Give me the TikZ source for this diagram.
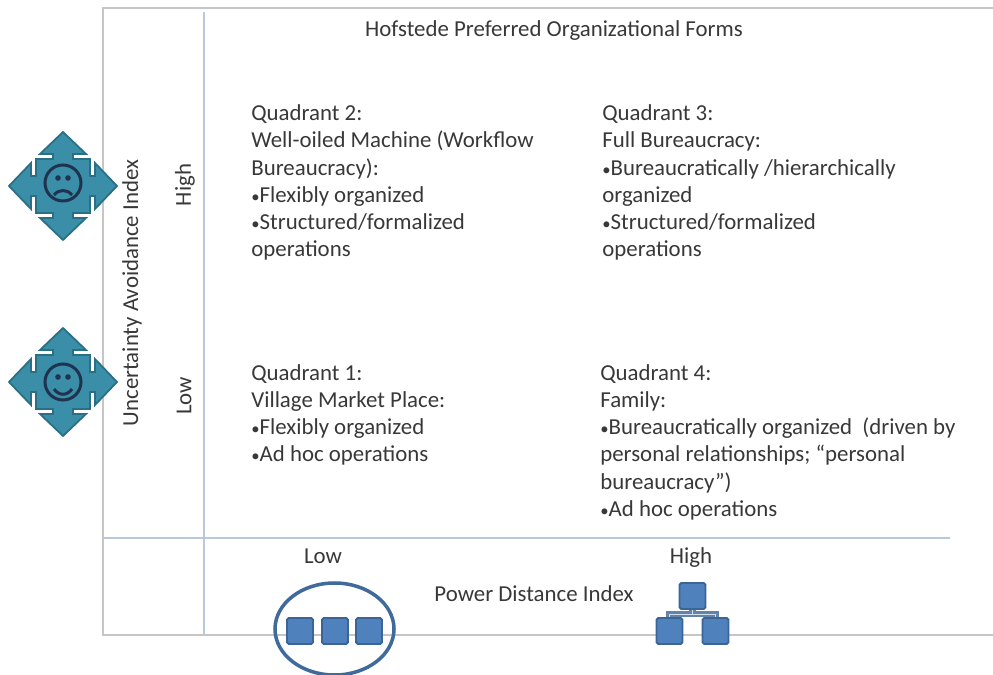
\documentclass[tikz,border=0pt]{standalone}
\usepackage{fontspec}
\setmainfont{Carlito}
\usepackage{xcolor}
\usetikzlibrary{calc}
\definecolor{framegray}{HTML}{C6C6C6}
\definecolor{axisblue}{HTML}{B9C8DB}
\definecolor{textgray}{HTML}{383838}
\definecolor{tealfill}{HTML}{3A8EA8}
\definecolor{tealedge}{HTML}{2A6F85}
\definecolor{facedark}{HTML}{1F3350}
\definecolor{boxfill}{HTML}{4F81BD}
\definecolor{boxedge}{HTML}{3A6596}
\definecolor{ringblue}{HTML}{3F6A9B}
\newcommand{\qbullet}{{\fontsize{9.5}{10}\selectfont•}}

\tikzset{
  label/.style={font=\fontsize{13}{15.5}\selectfont, text=textgray, inner sep=0pt},
  quadtext/.style={label, align=left, anchor=north west},
  unitbox/.style={draw=boxedge, fill=boxfill, line width=1.1pt, rounded corners=1pt,
    minimum size=0.52cm, inner sep=0pt},
  treeline/.style={draw=boxedge!80, line width=1.5pt, double=boxfill!25, double distance=0.5pt},
  pics/moodicon/.style n args={3}{code={
    \draw[fill=tealfill, draw=tealedge, line width=1pt]
      (0,-54) -- (23,-32) -- (10,-32) -- (10,-27) -- (27,-27) -- (27,-10) -- (32,-10) -- (32,-23)
      -- (54,0) -- (32,23) -- (32,10) -- (27,10) -- (27,27) -- (10,27) -- (10,32) -- (23,32)
      -- (0,54) -- (-23,32) -- (-10,32) -- (-10,27) -- (-27,27) -- (-27,10) -- (-32,10) -- (-32,23)
      -- (-54,0) -- (-32,-23) -- (-32,-10) -- (-27,-10) -- (-27,-27) -- (-10,-27) -- (-10,-32) -- (-23,-32)
      -- cycle;
    \draw[facedark, line width=1.7pt] (0,#3) circle (18);
    \fill[facedark] (-5,#3-5) circle (2.8) (5,#3-5) circle (2.8);
    \draw[facedark, line width=1.7pt] (-9,#1) .. controls (-4,#2) and (4,#2) .. (9,#1);
  }}
}

\begin{document}
\begin{tikzpicture}[x=0.02cm, y=-0.02cm]
\useasboundingbox (0,0) rectangle (993,675);

% frame and axes
\coordinate (frametr) at (993,8);
\coordinate (frametl) at (103,8);
\coordinate (framebl) at (103,635);
\coordinate (framebr) at (993,635);
\draw[framegray, line width=0.7pt] (frametr) -- (frametl) -- (framebl) -- (framebr);

\coordinate (vtop) at (204,12);
\coordinate (vbot) at (204,635);
\coordinate (hleft) at (104,538);
\coordinate (hright) at (950,538);
\draw[axisblue, line width=0.7pt] (vtop) -- (vbot);
\draw[axisblue, line width=0.7pt] (hleft) -- (hright);

% title and axis labels
\draw(554,31) node (title) [label]{Hofstede Preferred Organizational Forms};
\draw(132,293) node (uaindex) [label, rotate=90]{Uncertainty Avoidance Index};
\draw(185,185) node (uahigh) [label, rotate=90]{High};
\draw(184,396) node (ualow) [label, rotate=90]{Low};
\draw(323,556) node (pdlow) [label]{Low};
\draw(691,558) node (pdhigh) [label]{High};
\draw(534,594) node (pdindex) [label]{Power Distance Index};

% quadrants
\draw(251,104.5) node (quadtwo) [quadtext]{Quadrant 2:\\Well-oiled Machine (Workflow\\Bureaucracy):\\\qbullet Flexibly organized\\\qbullet Structured/formalized\\operations};
\draw(602,104.5) node (quadthree) [quadtext]{Quadrant 3:\\Full Bureaucracy:\\\qbullet Bureaucratically /hierarchically\\organized\\\qbullet Structured/formalized\\operations};
\draw(251,364) node (quadone) [quadtext]{Quadrant 1:\\Village Market Place:\\\qbullet Flexibly organized\\\qbullet Ad hoc operations};
\draw(600,364) node (quadfour) [quadtext]{Quadrant 4:\\Family:\\\qbullet Bureaucratically organized\ \ (driven by\\personal relationships; “personal\\bureaucracy”)\\\qbullet Ad hoc operations};

% mood icons
\pic at (63,186) {moodicon={9}{3}{-3}};
\pic at (63,382) {moodicon={7}{14}{0}};

% flat organization
\draw[ringblue, line width=2pt] (334.5,629) ellipse (59.5 and 46);
\draw(300,631) node (flata) [unitbox]{};
\draw(335,631) node (flatb) [unitbox]{};
\draw(369,631) node (flatc) [unitbox]{};

% tall organization
\draw(692.5,596) node (root) [unitbox]{};
\draw(669.5,631) node (leafa) [unitbox]{};
\draw(715.5,631) node (leafb) [unitbox]{};
\coordinate (branch) at ($(root.south)+(0,4)$);
\draw[treeline] (leafa.north) |- (branch) -| (leafb.north);
\draw[treeline] (root.south) -- (branch);
\end{tikzpicture}
\end{document}
